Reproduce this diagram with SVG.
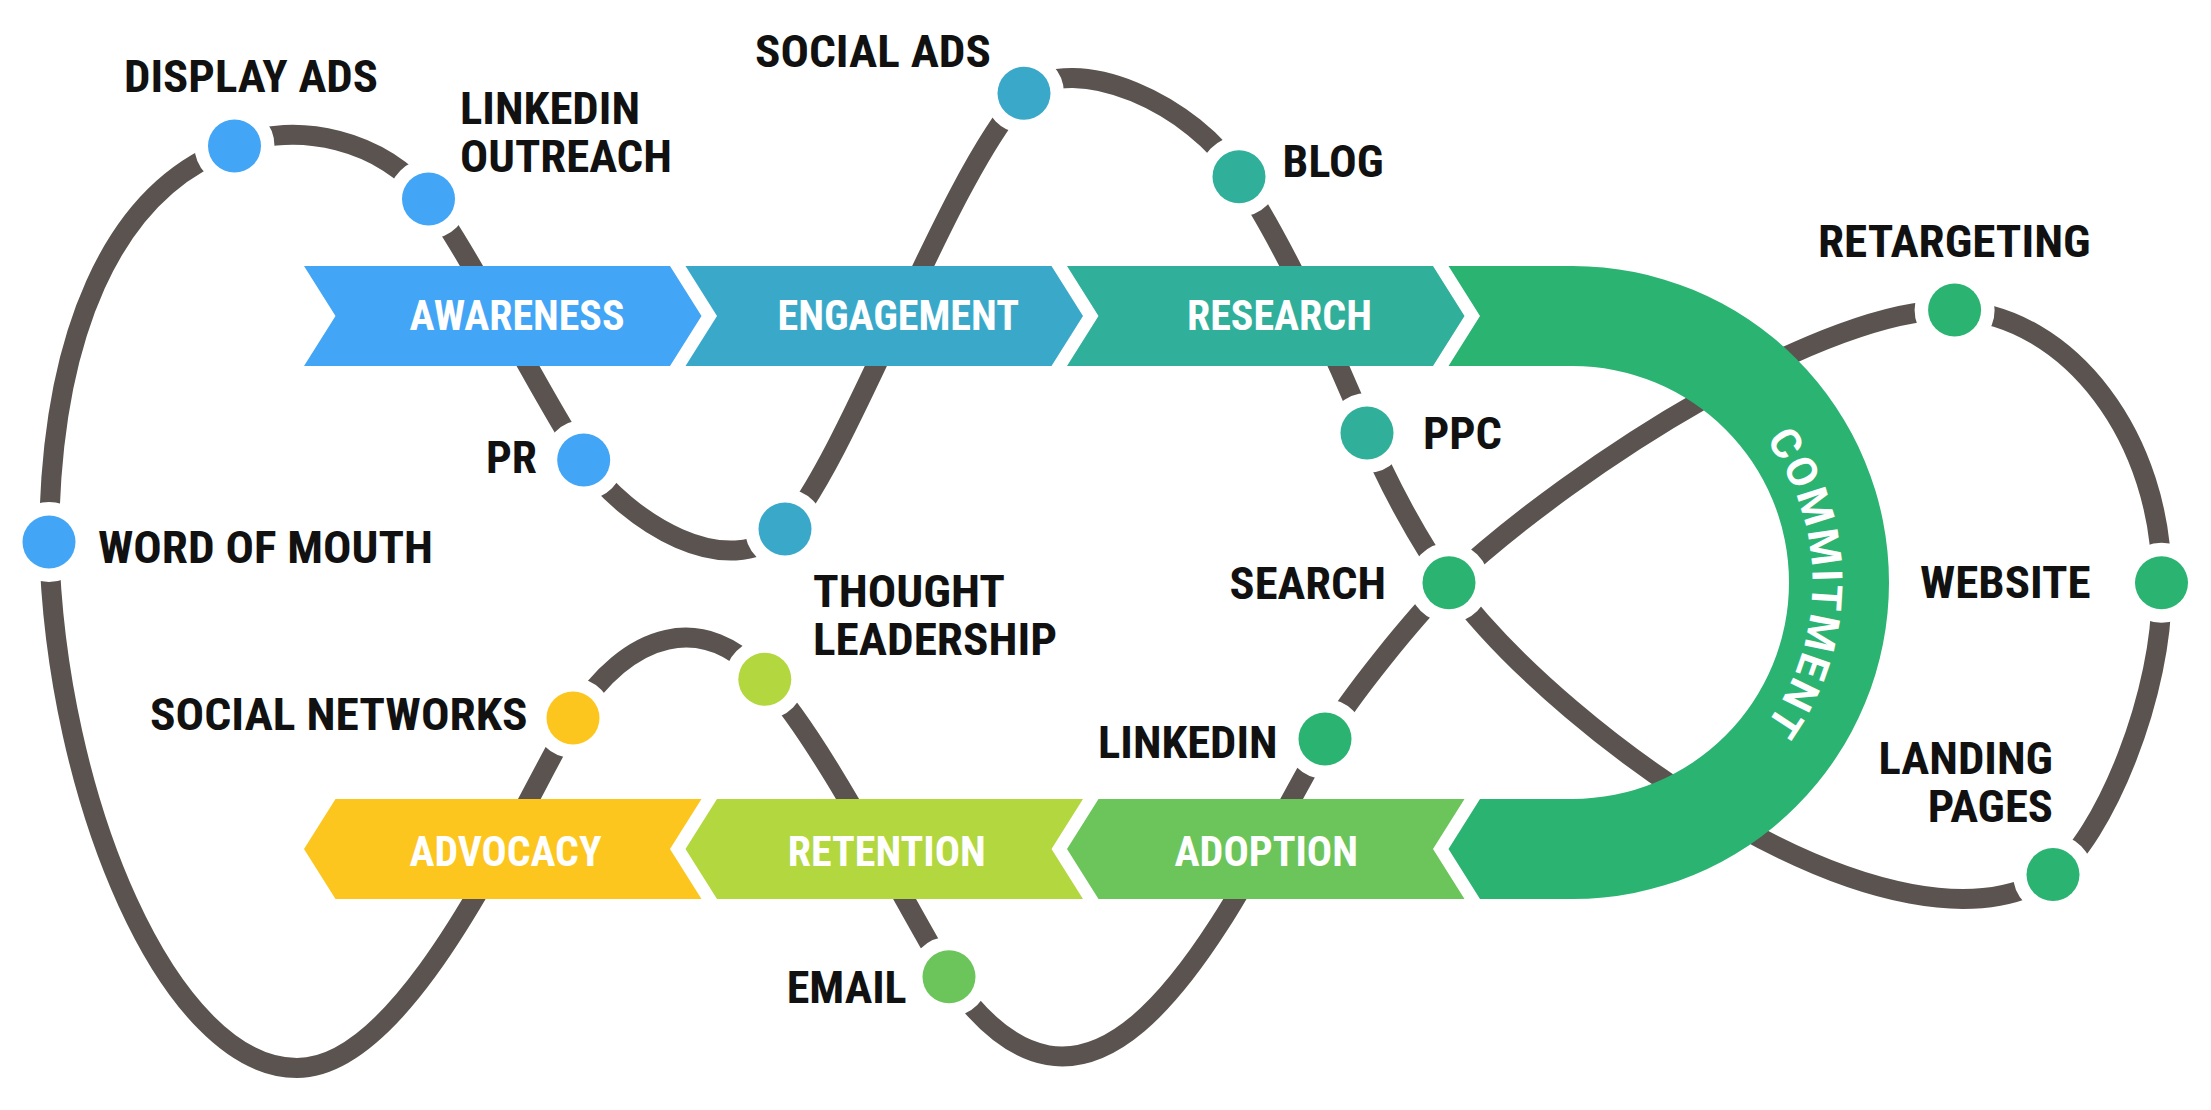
<svg xmlns="http://www.w3.org/2000/svg" width="2211" height="1110" viewBox="0 0 2211 1110">
<style>
.lbl{font-family:"Roboto Condensed","Roboto","Liberation Sans",sans-serif;font-weight:700;font-size:44px;fill:#111}
.stg{font-family:"Roboto Condensed","Roboto","Liberation Sans",sans-serif;font-weight:700;font-size:43px;fill:#fff}
.arc{font-family:"Roboto","Liberation Sans",sans-serif;font-weight:700;font-size:42px;fill:#fff}
.dot{stroke:#fff;stroke-width:27;paint-order:stroke}
.b1{fill:#42A5F5}.b2{fill:#3AA9C9}.b3{fill:#30AF9B}.b4{fill:#2BB371}.b5{fill:#6CC55A}.b6{fill:#B3D73E}.b7{fill:#FDC61E}
</style>
<defs>
<path id="arcText" d="M1572.5,342.5 A240,240 0 0 1 1572.5,822.5"/>
</defs>
<rect width="2211" height="1110" fill="#fff"/>
<g id="connectors">
<path fill="none" stroke="#5A5350" stroke-width="20" d="M49,542 C50,340 110,190 234.5,146 C295,120 385,140 428.5,199 C466,246 549,411 583.7,460 C627,521.5 728,585 785,529 C851,454 945,180 1024,93.3 C1075,50 1195,105 1239,176.7 C1284,243 1341,368 1367,433 C1385.5,479.5 1419.5,542.7 1449,582.7 C1567,742 1900,975 2053,874.6 C2102,840.4 2165,693 2161.5,582.8 C2163,440 2070,315 1954.6,310 C1830,305 1580.4,460.3 1449,582.7 C1413.6,618 1350,696 1325,739 C1232,900 1105,1200 949,976.8 C907.4,908.8 820.8,737 764.8,679.3 C705,610 628,630 573,718 C513,822 407,1068 297,1068 C170,1068 55,800 49,542 Z"/>
</g>
<g id="stage-awareness"><path class="b1" d="M304,266 L670,266 L701.5,316 L670,366 L304,366 L335.5,316 Z"/><text class="stg" x="409.6" y="330" textLength="215" lengthAdjust="spacingAndGlyphs">AWARENESS</text></g>
<g id="stage-engagement"><path class="b2" d="M685.5,266 L1051.5,266 L1083,316 L1051.5,366 L685.5,366 L717,316 Z"/><text class="stg" x="777.5" y="330" textLength="241.5" lengthAdjust="spacingAndGlyphs">ENGAGEMENT</text></g>
<g id="stage-research"><path class="b3" d="M1067,266 L1433,266 L1464.5,316 L1433,366 L1067,366 L1098.5,316 Z"/><text class="stg" x="1187" y="330" textLength="185" lengthAdjust="spacingAndGlyphs">RESEARCH</text></g>
<g id="stage-commitment"><path class="b4" d="M1448.5,266 L1572.5,266 A316.5,316.5 0 0 1 1572.5,899 L1480,899 L1448.5,849 L1480,799 L1572.5,799 A216.5,216.5 0 0 0 1572.5,366 L1448.5,366 L1480,316 Z"/><text class="arc"><textPath href="#arcText" startOffset="50%" text-anchor="middle" textLength="305" lengthAdjust="spacing">COMMITMENT</textPath></text></g>
<g id="stage-adoption"><path class="b5" d="M1067,849 L1098.5,799 L1464.5,799 L1433,849 L1464.5,899 L1098.5,899 Z"/><text class="stg" x="1174.5" y="866" textLength="183.5" lengthAdjust="spacingAndGlyphs">ADOPTION</text></g>
<g id="stage-retention"><path class="b6" d="M685.5,849 L717,799 L1083,799 L1051.5,849 L1083,899 L717,899 Z"/><text class="stg" x="787.8" y="866" textLength="198" lengthAdjust="spacingAndGlyphs">RETENTION</text></g>
<g id="stage-advocacy"><path class="b7" d="M304,849 L335.5,799 L701.5,799 L670,849 L701.5,899 L335.5,899 Z"/><text class="stg" x="409.6" y="866" textLength="192" lengthAdjust="spacingAndGlyphs">ADVOCACY</text></g>
<g id="node-word-of-mouth"><circle class="dot b1" cx="49" cy="542" r="26.5"/><text class="lbl" x="98" y="563" textLength="335" lengthAdjust="spacingAndGlyphs">WORD OF MOUTH</text></g>
<g id="node-display-ads"><circle class="dot b1" cx="234.5" cy="146" r="26.5"/><text class="lbl" x="124" y="92" textLength="254" lengthAdjust="spacingAndGlyphs">DISPLAY ADS</text></g>
<g id="node-linkedin-outreach"><circle class="dot b1" cx="428.5" cy="199" r="26.5"/><text class="lbl" x="460" y="124" textLength="180" lengthAdjust="spacingAndGlyphs">LINKEDIN</text><text class="lbl" x="460" y="171.5" textLength="212" lengthAdjust="spacingAndGlyphs">OUTREACH</text></g>
<g id="node-pr"><circle class="dot b1" cx="583.7" cy="460" r="26.5"/><text class="lbl" x="486" y="473" textLength="51" lengthAdjust="spacingAndGlyphs">PR</text></g>
<g id="node-engagement-point"><circle class="dot b2" cx="785" cy="529" r="26.5"/></g>
<g id="node-social-ads"><circle class="dot b2" cx="1024" cy="93.3" r="26.5"/><text class="lbl" x="755" y="67" textLength="236" lengthAdjust="spacingAndGlyphs">SOCIAL ADS</text></g>
<g id="node-blog"><circle class="dot b3" cx="1239" cy="176.7" r="26.5"/><text class="lbl" x="1282.6" y="177" textLength="101" lengthAdjust="spacingAndGlyphs">BLOG</text></g>
<g id="node-ppc"><circle class="dot b3" cx="1367" cy="433" r="26.5"/><text class="lbl" x="1423" y="449" textLength="79" lengthAdjust="spacingAndGlyphs">PPC</text></g>
<g id="node-search"><circle class="dot b4" cx="1449" cy="582.7" r="26.5"/><text class="lbl" x="1229.6" y="599" textLength="156.4" lengthAdjust="spacingAndGlyphs">SEARCH</text></g>
<g id="node-retargeting"><circle class="dot b4" cx="1954.6" cy="310" r="26.5"/><text class="lbl" x="1818" y="256.5" textLength="272.6" lengthAdjust="spacingAndGlyphs">RETARGETING</text></g>
<g id="node-website"><circle class="dot b4" cx="2161.5" cy="582.8" r="26.5"/><text class="lbl" x="1920" y="598" textLength="170.6" lengthAdjust="spacingAndGlyphs">WEBSITE</text></g>
<g id="node-landing-pages"><circle class="dot b4" cx="2053" cy="874.6" r="26.5"/><text class="lbl" x="1878.5" y="774" textLength="174.5" lengthAdjust="spacingAndGlyphs">LANDING</text><text class="lbl" x="1927.7" y="822" textLength="125.3" lengthAdjust="spacingAndGlyphs">PAGES</text></g>
<g id="node-linkedin"><circle class="dot b4" cx="1325" cy="739" r="26.5"/><text class="lbl" x="1098" y="758" textLength="179.5" lengthAdjust="spacingAndGlyphs">LINKEDIN</text></g>
<g id="node-email"><circle class="dot b5" cx="949" cy="976.8" r="26.5"/><text class="lbl" x="786.7" y="1003" textLength="120" lengthAdjust="spacingAndGlyphs">EMAIL</text></g>
<g id="node-thought-leadership"><circle class="dot b6" cx="764.8" cy="679.3" r="26.5"/><text class="lbl" x="813" y="607" textLength="192" lengthAdjust="spacingAndGlyphs">THOUGHT</text><text class="lbl" x="813" y="655" textLength="244" lengthAdjust="spacingAndGlyphs">LEADERSHIP</text></g>
<g id="node-social-networks"><circle class="dot b7" cx="573" cy="718" r="26.5"/><text class="lbl" x="150" y="730" textLength="377.6" lengthAdjust="spacingAndGlyphs">SOCIAL NETWORKS</text></g>
</svg>
